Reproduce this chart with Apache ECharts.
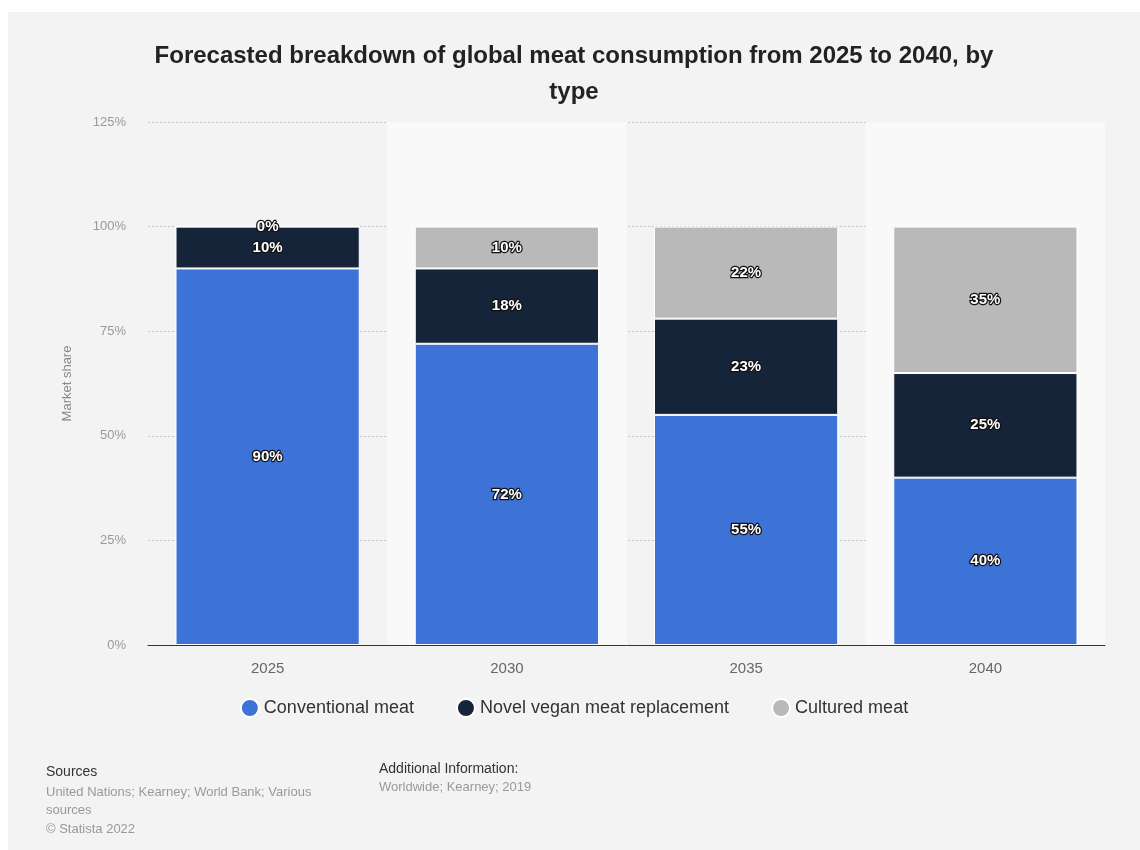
<!DOCTYPE html>
<html>
<head>
<meta charset="utf-8">
<script src="https://cdn.jsdelivr.net/npm/echarts@6/dist/echarts.min.js"></script>
<style>
    html, body { margin: 0; background: #fff; overflow: hidden; }
    #chart { position: absolute; left: 8px; top: 12px; width: 1132px; height: 838px; background: #f3f3f3; }
</style>
</head>
<body>
<div id="chart"></div>
<script>
const years = ["2025", "2030", "2035", "2040"]
const conventional = [90, 72, 55, 40]
const veganReplacement = [10, 18, 23, 25]
const cultured = [0, 10, 22, 35]
const yTicks = [0, 25, 50, 75, 100, 125]

let chart = echarts.init(document.getElementById("chart"))

// shared label look: white bold text with dark outline
const segLabel = {
    show: true,
    position: "inside",
    color: "#fff",
    fontSize: 15,
    fontWeight: "bold",
    fontFamily: "Liberation Sans, Arial, sans-serif",
    textBorderColor: "#111",
    textBorderWidth: 2.5,
    formatter: (p) => p.value + "%"
}

function makeSeries(name, data, color) {
    return {
        name: name,
        type: "bar",
        stack: "total",
        data: data,
        barWidth: "77%",
        itemStyle: { color: color, borderColor: "#fff", borderWidth: 1 },
        label: segLabel
    }
}

let option = {
    animation: false,
    textStyle: { fontFamily: "Liberation Sans, Arial, sans-serif" },
    title: {
        text: "Forecasted breakdown of global meat consumption from 2025 to 2040, by\ntype",
        left: "center",
        top: 21,
        textStyle: { fontSize: 24, fontWeight: "bold", color: "#222", lineHeight: 36 }
    },
    legend: {
        top: 681,
        left: "center",
        icon: "circle",
        itemWidth: 18,
        itemHeight: 18,
        itemGap: 42,
        textStyle: { fontSize: 18, color: "#333" },
        data: ["Conventional meat", "Novel vegan meat replacement", "Cultured meat"]
    },
    grid: { left: 140, right: 35, top: 110, bottom: 205 },
    xAxis: {
        type: "category",
        data: years,
        axisLine: { lineStyle: { color: "#333", width: 1 } },
        axisTick: { show: false },
        axisLabel: { fontSize: 15, color: "#666", margin: 16 },
        splitArea: { show: true, areaStyle: { color: ["rgba(0,0,0,0)", "#f9f9f9"] } }
    },
    yAxis: {
        type: "value",
        min: yTicks[0],
        max: yTicks[yTicks.length - 1],
        interval: 25,
        name: "Market share",
        nameLocation: "middle",
        nameGap: 74,
        nameTextStyle: { fontSize: 13, color: "#888" },
        axisLabel: { fontSize: 13, color: "#999", margin: 22, formatter: "{value}%" },
        splitLine: { lineStyle: { color: "#c8c8c8", type: [2, 2] } }
    },
    series: [
        makeSeries("Conventional meat", conventional, "#3d72d6"),
        makeSeries("Novel vegan meat replacement", veganReplacement, "#16243a"),
        makeSeries("Cultured meat", cultured, "#b9b9b9")
    ],
    graphic: [
        { type: "text", left: 38, top: 753, style: { text: "Sources", fontSize: 14, fill: "#333" } },
        { type: "text", left: 38, top: 771, style: { text: "United Nations; Kearney; World Bank; Various\nsources\n© Statista 2022", fontSize: 13, fill: "#999", lineHeight: 18.5 } },
        { type: "text", left: 371, top: 750, style: { text: "Additional Information:", fontSize: 14, fill: "#333" } },
        { type: "text", left: 371, top: 769, style: { text: "Worldwide; Kearney; 2019", fontSize: 13, fill: "#999" } }
    ]
}

option && chart.setOption(option)
</script>
</body>
</html>
